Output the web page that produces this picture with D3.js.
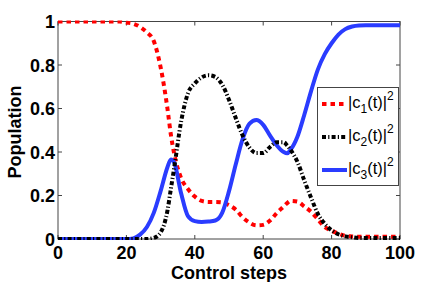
<!DOCTYPE html>
<html>
<head>
<meta charset="utf-8">
<script src="https://cdn.jsdelivr.net/npm/d3@7.9.0/dist/d3.min.js"></script>
<style>
  body { margin: 0; background: #fff; }
  text { font-family: "Liberation Sans", Arial, sans-serif; }
</style>
</head>
<body>
<svg id="chart" width="443" height="282"></svg>
<script>
// control steps (x) and populations
const steps = [0, 2, 4, 6, 8, 10, 12, 14, 16, 18, 20, 22, 24, 26, 28, 30, 32, 33, 34, 36, 38, 40,
  42, 44, 46, 48, 50, 52, 54, 56, 58, 60, 62, 64, 66, 67, 68, 70, 72, 74, 76, 78, 80,
  82, 84, 86, 88, 90, 92, 94, 96, 98, 100];
const c1 = [1, 1, 1, 1, 1, 1, 1, 1, 1, 1, 0.995, 0.99, 0.975, 0.95, 0.91, 0.79, 0.6, 0.48, 0.39, 0.28, 0.23, 0.195,
  0.175, 0.17, 0.17, 0.168, 0.155, 0.135, 0.1, 0.075, 0.063, 0.065, 0.085, 0.12, 0.15, 0.165, 0.175, 0.172, 0.15, 0.125, 0.09, 0.055, 0.038,
  0.025, 0.015, 0.012, 0.01, 0.01, 0.01, 0.01, 0.01, 0.01, 0.01];
const c2 = [0, 0, 0, 0, 0, 0, 0, 0, 0, 0, 0, 0, 0, 0, 0.005, 0.03, 0.13, 0.23, 0.33, 0.54, 0.67, 0.715,
  0.743, 0.753, 0.745, 0.71, 0.64, 0.555, 0.475, 0.42, 0.395, 0.395, 0.423, 0.445, 0.445, 0.43, 0.41, 0.355, 0.27, 0.19, 0.115, 0.07, 0.04,
  0.022, 0.012, 0.008, 0.005, 0.005, 0.005, 0.005, 0.005, 0.005, 0.005];
const c3 = [0, 0, 0, 0, 0, 0, 0, 0, 0, 0, 0, 0.003, 0.02, 0.055, 0.12, 0.22, 0.33, 0.366, 0.35, 0.21, 0.105, 0.082,
  0.078, 0.08, 0.085, 0.12, 0.22, 0.345, 0.46, 0.53, 0.547, 0.525, 0.475, 0.43, 0.4, 0.394, 0.41, 0.47, 0.57, 0.68, 0.78, 0.85, 0.9,
  0.94, 0.965, 0.977, 0.982, 0.983, 0.983, 0.983, 0.983, 0.983, 0.983];
const xTicks = [0, 20, 40, 60, 80, 100];
const yTicks = [0, 0.2, 0.4, 0.6, 0.8, 1];

const series = [
  { name: "1", values: c1, color: "#ff0000", dash: "4.5,4" },
  { name: "3", values: c3, color: "#2a3cff", dash: null },
  { name: "2", values: c2, color: "#000000", dash: "4,2.2,1.2,2.2" }
];
const legendOrder = ["1", "2", "3"];

const svg = d3.select("#chart");
const mLeft = 58, mRight = 400, mTop = 21.5, mBottom = 239;
const x = d3.scaleLinear().domain([0, 100]).range([mLeft, mRight]);
const y = d3.scaleLinear().domain([0, 1]).range([mBottom, mTop]);

// clip curves roughly at the axes box, like the original
svg.append("clipPath").attr("id", "plotclip").append("rect")
  .attr("x", mLeft).attr("y", mTop - 1).attr("width", mRight - mLeft).attr("height", mBottom - mTop + 2);

// axes box with inward ticks on all four sides
const tickLen = 4;
const axisColor = "#444";
svg.append("rect").attr("x", mLeft).attr("y", mTop).attr("width", mRight - mLeft).attr("height", mBottom - mTop)
  .attr("fill", "none").attr("stroke", axisColor).attr("stroke-width", 1);

xTicks.forEach(t => {
  svg.append("line").attr("x1", x(t)).attr("x2", x(t)).attr("y1", mBottom).attr("y2", mBottom - tickLen).attr("stroke", axisColor);
  svg.append("line").attr("x1", x(t)).attr("x2", x(t)).attr("y1", mTop).attr("y2", mTop + tickLen).attr("stroke", axisColor);
  svg.append("text").attr("x", x(t)).attr("y", 259).attr("text-anchor", "middle")
    .attr("font-size", 18).attr("font-weight", "bold").text(t);
});
yTicks.forEach(v => {
  svg.append("line").attr("x1", mLeft).attr("x2", mLeft + tickLen).attr("y1", y(v)).attr("y2", y(v)).attr("stroke", axisColor);
  svg.append("line").attr("x1", mRight).attr("x2", mRight - tickLen).attr("y1", y(v)).attr("y2", y(v)).attr("stroke", axisColor);
  svg.append("text").attr("x", 55).attr("y", y(v) + 6.5).attr("text-anchor", "end")
    .attr("font-size", 18).attr("font-weight", "bold").text(v);
});

svg.append("text").attr("x", 229).attr("y", 278.5).attr("text-anchor", "middle")
  .attr("font-size", 18).attr("font-weight", "bold").text("Control steps");
svg.append("text").attr("transform", "translate(21,132) rotate(-90)").attr("text-anchor", "middle")
  .attr("font-size", 18).attr("font-weight", "bold").text("Population");

// curves
const line = d3.line().x((d, i) => x(steps[i])).y(d => y(d)).curve(d3.curveMonotoneX);
const curves = svg.append("g").attr("clip-path", "url(#plotclip)");
series.forEach(s => {
  curves.append("path").attr("d", line(s.values)).attr("fill", "none")
    .attr("stroke", s.color).attr("stroke-width", 4)
    .attr("stroke-dasharray", s.dash);
});

// legend
const lg = svg.append("g");
lg.append("rect").attr("x", 317.5).attr("y", 87.5).attr("width", 81).attr("height", 98)
  .attr("fill", "#fff").attr("stroke", axisColor);
legendOrder.forEach((n, i) => {
  const s = series.find(d => d.name === n);
  const ly = 104 + i * 33;
  lg.append("line").attr("x1", 322).attr("x2", 347).attr("y1", ly).attr("y2", ly)
    .attr("stroke", s.color).attr("stroke-width", 4).attr("stroke-dasharray", s.dash);
  const t = lg.append("text").attr("x", 348).attr("y", ly + 4).attr("font-size", 16.5);
  t.append("tspan").text("|c");
  t.append("tspan").attr("font-size", 12).attr("dy", 5).text(n);
  t.append("tspan").attr("dy", -5).text("(t)|");
  t.append("tspan").attr("font-size", 12).attr("dy", -8).text("2");
});
</script>
</body>
</html>
